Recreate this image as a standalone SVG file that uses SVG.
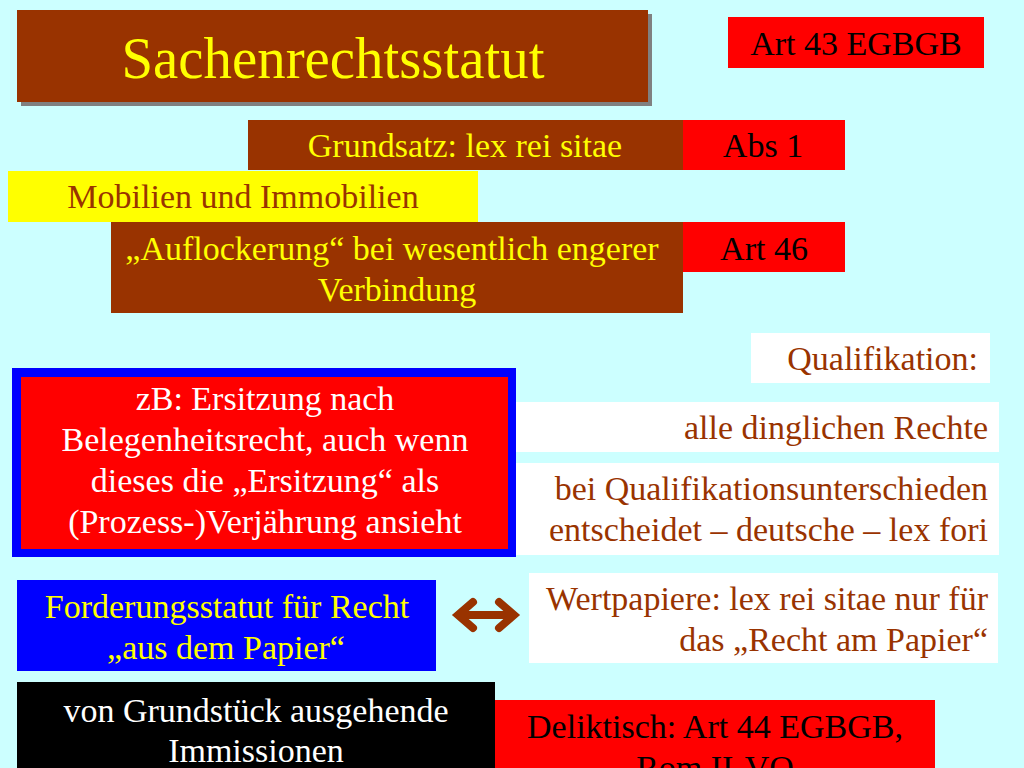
<svg xmlns="http://www.w3.org/2000/svg" width="1024" height="768" viewBox="0 0 1024 768">
<style>
text{font-family:"Liberation Serif","Times New Roman",serif;font-size:34px}
.c{text-anchor:middle}
.r{text-anchor:end}
.yel{fill:#FFFF00}
.brn{fill:#993300}
.blk{fill:#000000}
.wht{fill:#FFFFFF}
</style>
<rect x="0" y="0" width="1024" height="768" fill="#CCFFFF"/>
<g id="title">
<rect x="21" y="14" width="631" height="92" fill="#808080"/>
<rect x="17" y="10" width="631" height="92" fill="#993300"/>
<text x="333" y="78" class="c yel" style="font-size:60px" textLength="423" lengthAdjust="spacingAndGlyphs">Sachenrechtsstatut</text>
</g>
<g id="art43">
<rect x="728" y="17" width="256" height="51" fill="#FF0000"/>
<text x="856" y="55" class="c blk">Art 43 EGBGB</text>
</g>
<g id="grundsatz">
<rect x="248" y="120" width="435" height="50" fill="#993300"/>
<text x="465" y="157" class="c yel">Grundsatz: lex rei sitae</text>
</g>
<g id="abs1">
<rect x="683" y="120" width="162" height="50" fill="#FF0000"/>
<text x="763" y="157" class="c blk">Abs 1</text>
</g>
<g id="mobilien">
<rect x="8" y="171" width="470" height="51" fill="#FFFF00"/>
<text x="243" y="208" class="c brn">Mobilien und Immobilien</text>
</g>
<g id="auflockerung">
<rect x="111" y="222" width="572" height="91" fill="#993300"/>
<text x="392" y="260" class="c yel">„Auflockerung“ bei wesentlich engerer</text>
<text x="397" y="301" class="c yel">Verbindung</text>
</g>
<g id="art46">
<rect x="683" y="222" width="162" height="50" fill="#FF0000"/>
<text x="764" y="260" class="c blk">Art 46</text>
</g>
<g id="qualifikation">
<rect x="751" y="333" width="239" height="50" fill="#FFFFFF"/>
<text x="978" y="370" class="r brn">Qualifikation:</text>
</g>
<g id="dinglich">
<rect x="516" y="402" width="483" height="50" fill="#FFFFFF"/>
<text x="988" y="439" class="r brn">alle dinglichen Rechte</text>
</g>
<g id="qualunterschiede">
<rect x="516" y="463" width="483" height="92" fill="#FFFFFF"/>
<text x="988" y="500" class="r brn">bei Qualifikationsunterschieden</text>
<text x="988" y="541" class="r brn">entscheidet – deutsche – lex fori</text>
</g>
<g id="ersitzung">
<rect x="12" y="368" width="504" height="189" fill="#0000FF"/>
<rect x="21" y="377" width="487" height="172" fill="#FF0000"/>
<text x="265" y="410" class="c wht">zB: Ersitzung nach</text>
<text x="265" y="451" class="c wht">Belegenheitsrecht, auch wenn</text>
<text x="265" y="492" class="c wht">dieses die „Ersitzung“ als</text>
<text x="265" y="533" class="c wht">(Prozess-)Verjährung ansieht</text>
</g>
<g id="forderungsstatut">
<rect x="17" y="580" width="419" height="91" fill="#0000FF"/>
<text x="227" y="618" class="c yel">Forderungsstatut für Recht</text>
<text x="226" y="659" class="c yel">„aus dem Papier“</text>
</g>
<g id="wertpapiere">
<rect x="529" y="573" width="469" height="90" fill="#FFFFFF"/>
<text x="988" y="610" class="r brn">Wertpapiere: lex rei sitae nur für</text>
<text x="988" y="651" class="r brn">das „Recht am Papier“</text>
</g>
<g id="immissionen">
<rect x="17" y="682" width="478" height="86" fill="#000000"/>
<text x="256" y="722" class="c wht">von Grundstück ausgehende</text>
<text x="256" y="762" class="c wht">Immissionen</text>
</g>
<g id="deliktisch">
<rect x="495" y="700" width="440" height="68" fill="#FF0000"/>
<text x="715" y="738" class="c blk">Deliktisch: Art 44 EGBGB,</text>
<text x="715" y="779" class="c blk">Rom II-VO</text>
</g>
<g id="connectors" fill="none" stroke="#993300" stroke-width="8" stroke-linecap="round" stroke-linejoin="miter">
<path d="M460,615 H512"/>
<path d="M473,602 L458,615 L473,628"/>
<path d="M499,602 L514,615 L499,628"/>
</g>
</svg>
